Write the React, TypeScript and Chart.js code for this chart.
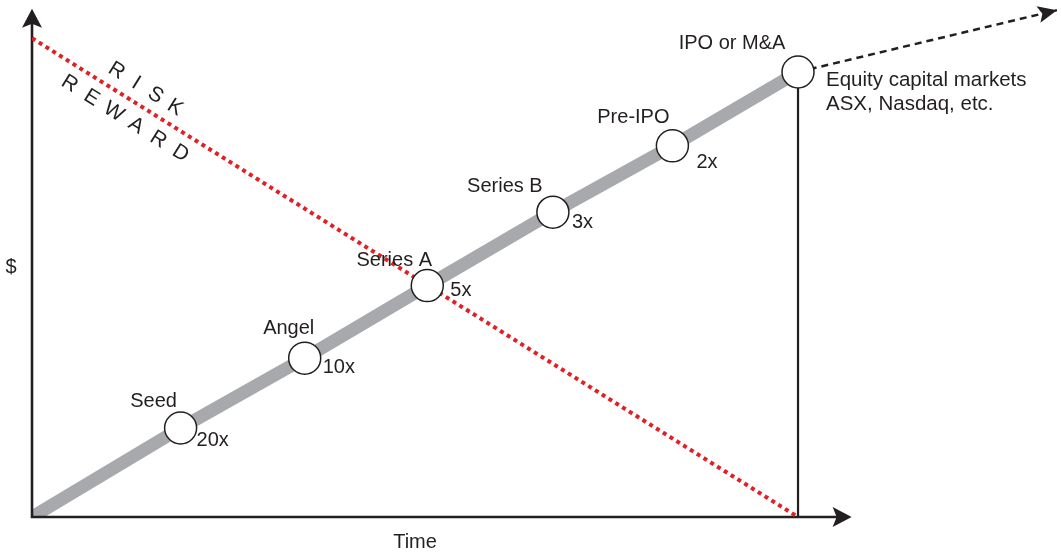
import React, { useEffect, useRef } from 'react';
import { Chart, registerables } from 'chart.js';

Chart.register(...registerables);

// ---------- data ----------
const stages = ['Seed', 'Angel', 'Series A', 'Series B', 'Pre-IPO', 'IPO or M&A'];
const stageTime = [1.94, 3.56, 5.16, 6.8, 8.36, 10];
const stageValue = [2.0, 3.57, 5.2, 6.85, 8.34, 10];
const multiples = ['20x', '10x', '5x', '3x', '2x', ''];
const riskLineTime = [0, 10];
const riskLineValue = [10.76, 0];
const exitLineTime = [10, 13.38];
const exitLineValue = [10, 11.39];
const exitNote = ['Equity capital markets', 'ASX, Nasdaq, etc.'];
const axisTitleX = 'Time';
const axisTitleY = '$';
const riskWord = 'RISK';
const rewardWord = 'REWARD';
const timeAxisEnd = 10.7;
const valueAxisEnd = 11.42;
const timeMax = 13.433;
const valueMax = 11.618;

// ---------- layout / style ----------
const INK = '#231f20';
const GREY = '#a7a9ac';
const RED = '#e31f26';
const FONT = '"Liberation Sans", Arial, Helvetica, sans-serif';
const stageLabelOffset = [
  [-27, -21], [-16, -24], [-33, -20], [-48, -20], [-39, -23], [-66, -23],
];
const multipleOffset = [
  [16, 18], [18, 15], [23, 10], [19, 16], [24, 22], [0, 0],
];

function arrowHead(ctx: CanvasRenderingContext2D, tx: number, ty: number, ang: number, len: number, half: number, notch: number) {
  const ux = Math.cos(ang), uy = Math.sin(ang);
  const nx = -uy, ny = ux;
  ctx.beginPath();
  ctx.moveTo(tx, ty);
  ctx.lineTo(tx - ux * len + nx * half, ty - uy * len + ny * half);
  ctx.lineTo(tx - ux * (len - notch), ty - uy * (len - notch));
  ctx.lineTo(tx - ux * len - nx * half, ty - uy * len - ny * half);
  ctx.closePath();
  ctx.fillStyle = INK;
  ctx.fill();
}

const diagramPlugin = {
  id: 'diagram',
  afterDatasetDraw(chart: any, args: any) {
    if (args.index !== 4) return; // after the grey band: axes
    const { ctx, scales } = chart;
    const xs = scales.x, ys = scales.y;
    const ox = xs.getPixelForValue(0), oy = ys.getPixelForValue(0);
    const xe = xs.getPixelForValue(timeAxisEnd);
    const ye = ys.getPixelForValue(valueAxisEnd);
    ctx.save();
    ctx.strokeStyle = INK;
    ctx.lineWidth = 2.6;
    ctx.lineCap = 'butt';
    ctx.beginPath();
    ctx.moveTo(ox, ye + 10);
    ctx.lineTo(ox, oy + 1.3);
    ctx.moveTo(ox - 1.3, oy);
    ctx.lineTo(xe - 10, oy);
    ctx.stroke();
    arrowHead(ctx, ox, ye, -Math.PI / 2, 19, 10, 4);
    arrowHead(ctx, xe, oy, 0, 19, 10, 4);
    ctx.restore();
  },
  afterDraw(chart: any) {
    const { ctx, scales } = chart;
    const xs = scales.x, ys = scales.y;
    ctx.save();
    ctx.fillStyle = INK;
    ctx.font = `20px ${FONT}`;
    ctx.textBaseline = 'alphabetic';
    stages.forEach((s, i) => {
      const px = xs.getPixelForValue(stageTime[i]);
      const py = ys.getPixelForValue(stageValue[i]);
      ctx.textAlign = 'center';
      ctx.fillText(s, px + stageLabelOffset[i][0], py + stageLabelOffset[i][1]);
      if (multiples[i]) {
        ctx.textAlign = 'left';
        ctx.fillText(multiples[i], px + multipleOffset[i][0], py + multipleOffset[i][1]);
      }
    });
    // exit arrow head + note
    const ex0 = xs.getPixelForValue(exitLineTime[0]);
    const ey0 = ys.getPixelForValue(exitLineValue[0]);
    const ex1 = xs.getPixelForValue(exitLineTime[1]);
    const ey1 = ys.getPixelForValue(exitLineValue[1]);
    arrowHead(ctx, ex1, ey1, Math.atan2(ey1 - ey0, ex1 - ex0), 19, 8.5, 4);
    ctx.fillStyle = INK;
    ctx.textAlign = 'left';
    ctx.font = `20.5px ${FONT}`;
    ctx.fillText(exitNote[0], ex0 + 28, ey0 + 14);
    ctx.fillText(exitNote[1], ex0 + 28, ey0 + 38);
    ctx.font = `20px ${FONT}`;
    // axis titles
    ctx.textAlign = 'center';
    ctx.fillText(axisTitleX, xs.getPixelForValue(5.0), ys.getPixelForValue(0) + 31);
    ctx.textBaseline = 'middle';
    ctx.fillText(axisTitleY, 11, ys.getPixelForValue(5.6));
    // RISK / REWARD along the red line
    const rx0 = xs.getPixelForValue(riskLineTime[0]);
    const ry0 = ys.getPixelForValue(riskLineValue[0]);
    const rx1 = xs.getPixelForValue(riskLineTime[1]);
    const ry1 = ys.getPixelForValue(riskLineValue[1]);
    const ang = Math.atan2(ry1 - ry0, rx1 - rx0);
    const ux = Math.cos(ang), uy = Math.sin(ang);
    const nx = uy, ny = -ux; // normal pointing up-right
    ctx.font = `21px ${FONT}`;
    const placeWord = (word: string, start: number, step: number, perp: number) => {
      for (let k = 0; k < word.length; k++) {
        const a = start + k * step;
        const cx = rx0 + ux * a + nx * perp;
        const cy = ry0 + uy * a + ny * perp;
        ctx.save();
        ctx.translate(cx, cy);
        ctx.rotate(ang);
        ctx.textAlign = 'center';
        ctx.textBaseline = 'middle';
        ctx.fillText(word[k], 0, 0);
        ctx.restore();
      }
    };
    placeWord(riskWord, 89, 23, 17);
    placeWord(rewardWord, 56, 26.2, -19);
    ctx.restore();
  },
};

export default function App() {
  const ref = useRef<HTMLCanvasElement | null>(null);
  useEffect(() => {
    if (!ref.current) return;
    const circles = stageTime.map((t, i) => ({ x: t, y: stageValue[i] }));
    const band = [{ x: 0, y: 0 }, ...circles];
    const chart = new Chart(ref.current, {
      type: 'scatter',
      data: {
        datasets: [
          {
            label: 'stages',
            data: circles,
            pointRadius: 16,
            pointHoverRadius: 16,
            pointBackgroundColor: '#ffffff',
            pointBorderColor: INK,
            pointBorderWidth: 1.5,
            showLine: false,
            order: 0,
          } as any,
          {
            label: 'risk',
            data: riskLineTime.map((t, i) => ({ x: t, y: riskLineValue[i] })),
            showLine: true,
            borderColor: RED,
            borderWidth: 4,
            borderDash: [4, 4],
            pointRadius: 0,
            order: 1,
          } as any,
          {
            label: 'exit',
            data: exitLineTime.map((t, i) => ({ x: t, y: exitLineValue[i] })),
            showLine: true,
            borderColor: INK,
            borderWidth: 2.5,
            borderDash: [7, 5],
            pointRadius: 0,
            order: 2,
            clip: false,
          } as any,
          {
            label: 'ipoDrop',
            data: [{ x: stageTime[5], y: 0 }, { x: stageTime[5], y: stageValue[5] }],
            showLine: true,
            borderColor: INK,
            borderWidth: 2.2,
            pointRadius: 0,
            order: 3,
          } as any,
          {
            label: 'band',
            data: band,
            showLine: true,
            borderColor: GREY,
            borderWidth: 13,
            pointRadius: 0,
            order: 4,
          } as any,
        ],
      },
      options: {
        animation: false,
        responsive: false,
        events: [],
        layout: { autoPadding: false, padding: { left: 32, right: 0, top: 0, bottom: 37 } },
        plugins: { legend: { display: false }, tooltip: { enabled: false }, title: { display: false } },
        scales: {
          x: { type: 'linear', min: 0, max: timeMax, display: false },
          y: { type: 'linear', min: 0, max: valueMax, display: false },
        },
      },
      plugins: [diagramPlugin],
    });
    return () => chart.destroy();
  }, []);
  return (
    <div style={{ position: 'fixed', left: 0, top: 0, width: 1061, height: 554, background: '#fff' }}>
      <canvas ref={ref} width={1061} height={554} style={{ display: 'block' }} />
    </div>
  );
}
